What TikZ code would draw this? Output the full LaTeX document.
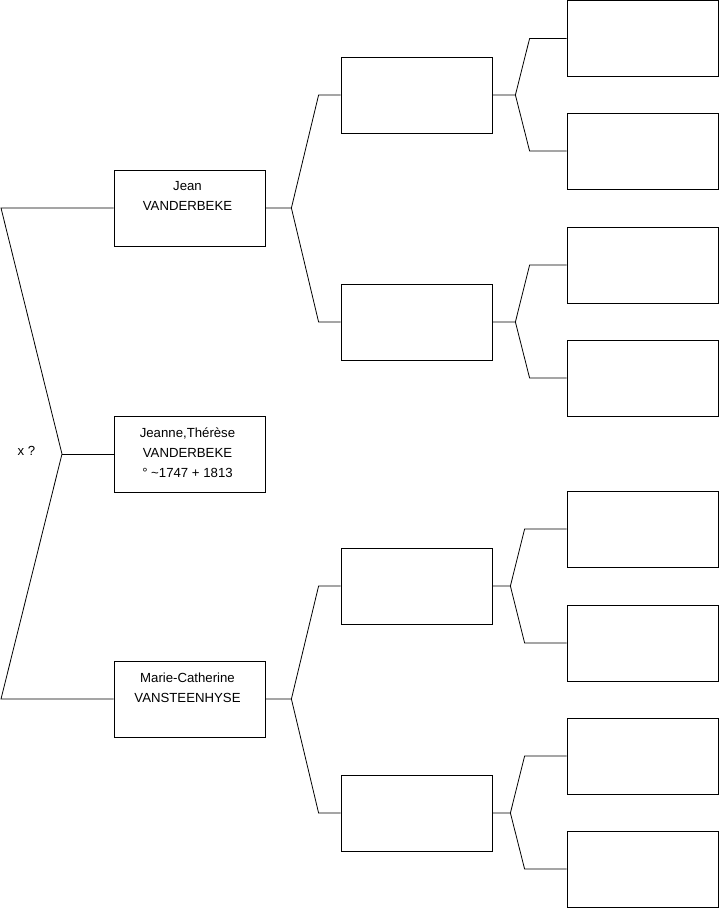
\documentclass[tikz,border=0pt]{standalone}
\usepackage{fontspec}
\setmainfont{Liberation Sans}
\usetikzlibrary{positioning}

\begin{document}
\begin{tikzpicture}[x=1pt, y=-1pt, line width=0.8pt,
    person/.style={draw, minimum width=151pt, minimum height=76pt, inner sep=0pt},
    who/.style={align=center, inner sep=0pt, xshift=-2pt, font=\fontsize{13.2}{20}\selectfont}]
  \useasboundingbox (0,0) rectangle (719,908);

  % generation 1: child and parents
  \node[person] (f) at (189.5,208) {};
  \node[person] (c) at (189.5,454) {};
  \node[person] (m) at (189.5,699) {};
  \node[who, below=11.5pt of f.north] {Jean\\VANDERBEKE};
  \node[who, below=12pt of c.north] {Jeanne,Thérèse\\VANDERBEKE\\° \textasciitilde1747 + 1813};
  \node[who, below=11.5pt of m.north] {Marie-Catherine\\VANSTEENHYSE};
  \node[who] (mar) at (28.5,451) {x ?};

  % generation 2: grandparents
  \node[person] (g1) at (416.5,95) {};
  \node[person] (g2) at (416.5,322) {};
  \node[person] (g3) at (416.5,586) {};
  \node[person] (g4) at (416.5,813) {};

  % generation 3: great-grandparents
  \foreach \i/\y in {1/38.5, 2/151, 3/265, 4/378, 5/529, 6/643, 7/756, 8/869}
    \node[person] (h\i) at (642.5,\y) {};

  % marriage fork
  \coordinate (root) at (62,454);
  \coordinate (edge) at (1,0);
  \draw (f.west) -- (f.west -| edge) -- (root) -- (m.west -| edge) -- (m.west);
  \draw (root) -- (c.west);

  % forks to grandparents
  \foreach \p/\a/\b in {f/g1/g2, m/g3/g4}
    \draw (\a.west) -- ([xshift=-22pt]\a.west) -- ([xshift=26pt]\p.east)
          -- ([xshift=-22pt]\b.west) -- (\b.west)
          (\p.east) -- ([xshift=26pt]\p.east);

  % forks to great-grandparents
  \foreach \p/\a/\b/\j/\k in {g1/h1/h2/23/37, g2/h3/h4/23/37, g3/h5/h6/18/42, g4/h7/h8/18/42}
    \draw (\a.west) -- ([xshift=-\k pt]\a.west) -- ([xshift=\j pt]\p.east)
          -- ([xshift=-\k pt]\b.west) -- (\b.west)
          (\p.east) -- ([xshift=\j pt]\p.east);
\end{tikzpicture}
\end{document}
